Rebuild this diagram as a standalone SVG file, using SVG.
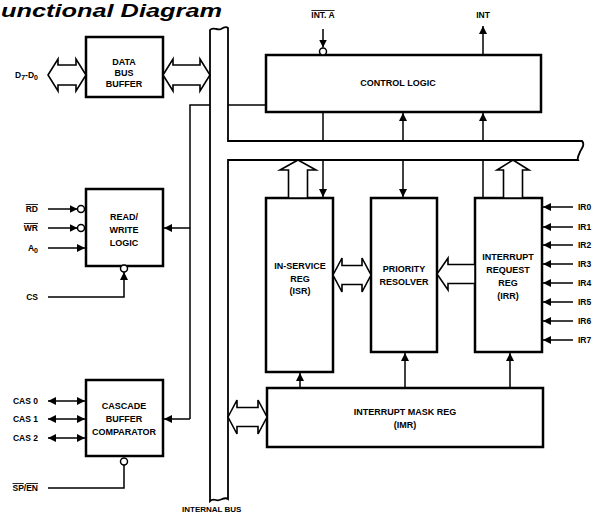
<svg xmlns="http://www.w3.org/2000/svg" width="594" height="513" viewBox="0 0 594 513">
<style>
  .box{fill:#fff;stroke:#000;stroke-width:2.5}
  .ln{fill:none;stroke:#000;stroke-width:1.5}
  .hol{fill:#fff;stroke:#000;stroke-width:1.6;stroke-linejoin:miter}
  .bub{fill:#fff;stroke:#000;stroke-width:1.5}
  text{font-family:"Liberation Sans",Arial,sans-serif;font-weight:bold;font-size:9px;fill:#000}
  .c{text-anchor:middle}
  .r{text-anchor:end;font-size:8.5px}
  .l{text-anchor:start;font-size:8.5px}
  .ov{text-decoration:overline}
</style>
<defs>
  <marker id="ah" viewBox="0 0 10 10" refX="10" refY="5" markerWidth="8" markerHeight="8" markerUnits="userSpaceOnUse" orient="auto-start-reverse">
    <path d="M0,0 L10,5 L0,10 z" fill="#000"/>
  </marker>
</defs>

<text x="1" y="16.5" font-style="italic" textLength="221" lengthAdjust="spacingAndGlyphs" style="font-size:18px">unctional Diagram</text>

<g id="internal-bus">
  <path class="box" style="stroke-width:1.8" d="M210,30 C213,26 217,31 221,29 C224,27 226,26 228,28 L228,141 L582,141 C586,145 581,149 580,152 C578,156 577,158 578,160 L228,160 L228,499 C224,496 220,502 216,500 C213,499 211,500 210,501 Z"/>
  <text x="182" y="512" style="font-size:8px">INTERNAL BUS</text>
</g>

<g id="data-bus-buffer">
  <rect class="box" x="86" y="37" width="77" height="60"/>
  <text class="c" x="124" y="65">DATA</text>
  <text class="c" x="124" y="76">BUS</text>
  <text class="c" x="124" y="87">BUFFER</text>
</g>

<g id="read-write-logic">
  <rect class="box" x="86" y="189" width="77" height="77"/>
  <text class="c" x="124" y="220">READ/</text>
  <text class="c" x="124" y="233">WRITE</text>
  <text class="c" x="124" y="246">LOGIC</text>
</g>

<g id="cascade-buffer-comparator">
  <rect class="box" x="86" y="380" width="77" height="76"/>
  <text class="c" x="124" y="409">CASCADE</text>
  <text class="c" x="124" y="422">BUFFER</text>
  <text class="c" x="124" y="435">COMPARATOR</text>
</g>

<g id="control-logic">
  <rect class="box" x="266" y="55" width="275" height="57"/>
  <text class="c" x="398" y="86">CONTROL LOGIC</text>
</g>

<g id="isr">
  <rect class="box" x="266" y="198" width="67" height="174"/>
  <text class="c" x="300" y="269">IN-SERVICE</text>
  <text class="c" x="300" y="282">REG</text>
  <text class="c" x="300" y="294">(ISR)</text>
</g>

<g id="priority-resolver">
  <rect class="box" x="371" y="198" width="66" height="154"/>
  <text class="c" x="404" y="272">PRIORITY</text>
  <text class="c" x="404" y="285">RESOLVER</text>
</g>

<g id="irr">
  <rect class="box" x="475" y="198" width="67" height="154"/>
  <text class="c" x="508" y="260">INTERRUPT</text>
  <text class="c" x="508" y="273">REQUEST</text>
  <text class="c" x="508" y="286">REG</text>
  <text class="c" x="508" y="299">(IRR)</text>
</g>

<g id="imr">
  <rect class="box" x="267" y="388" width="276" height="59"/>
  <text class="c" x="405" y="415">INTERRUPT MASK REG</text>
  <text class="c" x="405" y="428">(IMR)</text>
</g>

<g id="labels">
  <text class="r" x="38" y="78">D<tspan dy="1.5" style="font-size:7px">7</tspan><tspan dy="-1.5">-D</tspan><tspan dy="1.5" style="font-size:7px">0</tspan></text>
  <text class="r ov" x="38" y="212">RD</text>
  <text class="r ov" x="38" y="231">WR</text>
  <text class="r" x="38" y="251">A<tspan dy="1.5" style="font-size:7px">0</tspan></text>
  <text class="r" x="38" y="300">CS</text>
  <text class="r" x="38" y="404">CAS 0</text>
  <text class="r" x="38" y="422">CAS 1</text>
  <text class="r" x="38" y="441">CAS 2</text>
  <text class="r" x="38" y="491"><tspan class="ov">SP</tspan>/<tspan class="ov">EN</tspan></text>
  <text class="c ov" x="323" y="18" style="font-size:8.5px">INT. A</text>
  <text class="c" x="483" y="18" style="font-size:8.5px">INT</text>
  <text class="l" x="578" y="210">IR0</text>
  <text class="l" x="578" y="230">IR1</text>
  <text class="l" x="578" y="248">IR2</text>
  <text class="l" x="578" y="267">IR3</text>
  <text class="l" x="578" y="286">IR4</text>
  <text class="l" x="578" y="305">IR5</text>
  <text class="l" x="578" y="324">IR6</text>
  <text class="l" x="578" y="343">IR7</text>
</g>

<g id="connectors">
  <path class="hol" d="M48,75 L58,59 L58,65 L76,65 L76,59 L86,75 L76,91 L76,85 L58,85 L58,91 Z"/>
  <path class="hol" d="M163,75 L173,59 L173,65 L200,65 L200,59 L210,75 L200,91 L200,85 L173,85 L173,91 Z"/>
  <path class="hol" d="M333,275 L342,258 L342,265.5 L362,265.5 L362,258 L371,275 L362,292 L362,284.5 L342,284.5 L342,292 Z"/>
  <path class="hol" d="M228,417 L237,400 L237,407.5 L258,407.5 L258,400 L267,417 L258,434 L258,426.5 L237,426.5 L237,434 Z"/>
  <path class="hol" d="M437,274 L448,258 L448,264.5 L475,264.5 L475,283.5 L448,283.5 L448,290 Z"/>
  <path class="hol" d="M298,160 L316,170 L307.5,170 L307.5,198 L288.5,198 L288.5,170 L280,170 Z"/>
  <path class="hol" d="M513,160 L529,170 L522.5,170 L522.5,198 L503.5,198 L503.5,170 L497,170 Z"/>

  <path class="ln" d="M210,105 L190,105 L190,419"/>
  <path class="ln" d="M228,105 L266,105"/>
  <path class="ln" marker-end="url(#ah)" d="M190,228 L164,228"/>
  <path class="ln" marker-end="url(#ah)" d="M190,419 L164,419"/>

  <path class="ln" d="M323,112 L323,141"/>
  <path class="ln" marker-end="url(#ah)" d="M403,141 L403,113"/>
  <path class="ln" marker-end="url(#ah)" d="M483,141 L483,113"/>
  <path class="ln" marker-end="url(#ah)" d="M323,160 L323,197"/>
  <path class="ln" marker-end="url(#ah)" d="M403,160 L403,197"/>
  <path class="ln" d="M483,160 L483,198"/>

  <path class="ln" marker-end="url(#ah)" d="M300,388 L300,373"/>
  <path class="ln" marker-end="url(#ah)" d="M405,388 L405,353"/>
  <path class="ln" marker-end="url(#ah)" d="M510,388 L510,353"/>

  <path class="ln" marker-end="url(#ah)" d="M323,29 L323,47.5"/>
  <circle class="bub" cx="323" cy="51.5" r="3.5"/>
  <path class="ln" marker-end="url(#ah)" d="M483,55 L483,26"/>

  <path class="ln" marker-end="url(#ah)" d="M48,209 L77.5,209"/>
  <circle class="bub" cx="81" cy="209" r="3.5"/>
  <path class="ln" marker-end="url(#ah)" d="M48,228 L77.5,228"/>
  <circle class="bub" cx="81" cy="228" r="3.5"/>
  <path class="ln" marker-end="url(#ah)" d="M48,248 L85,248"/>
  <path class="ln" marker-end="url(#ah)" d="M48,297 L124,297 L124,272"/>
  <circle class="bub" cx="124" cy="268.5" r="3.5"/>

  <path class="ln" marker-start="url(#ah)" marker-end="url(#ah)" d="M48,401 L85,401"/>
  <path class="ln" marker-start="url(#ah)" marker-end="url(#ah)" d="M48,419 L85,419"/>
  <path class="ln" marker-start="url(#ah)" marker-end="url(#ah)" d="M48,438 L85,438"/>
  <path class="ln" d="M48,488 L124,488 L124,465"/>
  <circle class="bub" cx="124" cy="461.5" r="3.5"/>

  <path class="ln" marker-end="url(#ah)" d="M573,207 L543,207"/>
  <path class="ln" marker-end="url(#ah)" d="M573,227 L543,227"/>
  <path class="ln" marker-end="url(#ah)" d="M573,245 L543,245"/>
  <path class="ln" marker-end="url(#ah)" d="M573,264 L543,264"/>
  <path class="ln" marker-end="url(#ah)" d="M573,283 L543,283"/>
  <path class="ln" marker-end="url(#ah)" d="M573,302 L543,302"/>
  <path class="ln" marker-end="url(#ah)" d="M573,321 L543,321"/>
  <path class="ln" marker-end="url(#ah)" d="M573,340 L543,340"/>
</g>
</svg>
